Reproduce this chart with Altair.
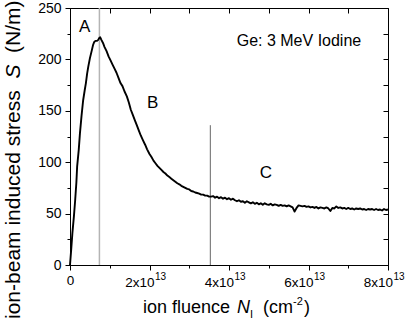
import altair as alt
import pandas as pd

# ---- data ----
# ion fluence in units of 1e13 cm^-2
fluence = [0.00, 0.03, 0.06, 0.10, 0.13, 0.16, 0.18, 0.22, 0.25, 0.29, 0.33, 0.37, 0.40, 0.43, 0.46,
           0.50, 0.55, 0.58, 0.61, 0.64, 0.68, 0.71, 0.74, 0.76, 0.79, 0.83, 0.87, 0.92, 0.97, 1.02,
           1.07, 1.12, 1.17, 1.22, 1.27, 1.32, 1.37, 1.43, 1.48, 1.53, 1.58, 1.63, 1.68, 1.73, 1.78,
           1.84, 1.89, 1.94, 2.00, 2.05, 2.10, 2.15, 2.20, 2.25, 2.30, 2.35, 2.40, 2.45, 2.50, 2.55,
           2.60, 2.65, 2.70, 2.75, 2.80, 2.85, 2.90, 2.95, 3.00, 3.05, 3.10, 3.15, 3.20, 3.25, 3.30,
           3.35, 3.40, 3.45, 3.50, 3.55, 3.60, 3.65, 3.70, 3.75, 3.80, 3.85, 3.90, 3.95, 4.00, 4.05,
           4.10, 4.15, 4.20, 4.25, 4.30, 4.35, 4.40, 4.45, 4.50, 4.55, 4.60, 4.65, 4.70, 4.75, 4.80,
           4.85, 4.90, 4.95, 5.00, 5.05, 5.10, 5.15, 5.20, 5.25, 5.30, 5.35, 5.40, 5.45, 5.50, 5.55,
           5.60, 5.65, 5.70, 5.75, 5.80, 5.85, 5.90, 5.95, 6.00, 6.05, 6.10, 6.15, 6.20, 6.25, 6.30,
           6.35, 6.40, 6.45, 6.50, 6.55, 6.60, 6.65, 6.70, 6.75, 6.80, 6.85, 6.90, 6.95, 7.00, 7.05,
           7.10, 7.15, 7.20, 7.25, 7.30, 7.35, 7.40, 7.45, 7.50, 7.55, 7.60, 7.65, 7.70, 7.75, 7.80,
           7.85, 7.90, 7.95, 8.00]
stress = [0, 15, 31, 48, 63, 80, 96, 112, 128, 145, 160, 170, 177, 186, 193,
          201, 209, 214, 217, 218, 218, 219, 221, 221.5, 219, 216, 212, 208, 203, 199,
          195, 191, 187, 182, 177, 174, 169, 164, 158, 151, 146, 141, 136, 131, 126,
          121, 117, 112.5, 108, 105, 101.5, 99, 96.5, 94.5, 92.5, 90.5, 89, 87, 85.5, 84,
          82.5, 81, 79.5, 78.5, 77, 76, 75, 74, 73.5, 72, 71.5, 70.5, 70, 69.5, 68.5,
          68.5, 67.5, 67.5, 66.5, 66.5, 67, 65.5, 66.5, 65, 66, 64.5, 65.5, 64, 65, 63.5,
          64.5, 63, 62, 63, 61.5, 62, 60.5, 62, 61, 60, 61, 59.5, 60.5, 59, 60,
          58.5, 60, 59, 58.5, 59.5, 58, 59, 58.5, 57.5, 58.5, 57.5, 58, 57, 58, 57,
          56, 52, 55.5, 58, 57.5, 57, 57.5, 56.5, 57, 56, 56.5, 55.5, 56.5, 55, 56,
          55.5, 55, 56, 55, 52.5, 55.5, 55, 57, 55.5, 56, 55, 55.5, 54.5, 55.5, 54.5,
          55, 54, 55, 54.5, 55, 54, 54.5, 53.5, 54.5, 54, 54.5, 53.5, 54.5, 53.5, 54,
          53, 54.5, 53.5, 54]

marker_x = [0.74, 3.53]
marker_top = [250, 136]

region_text = ["A", "B", "C"]
region_x = [0.37, 2.08, 4.93]
region_y = [231.5, 158, 89.5]

note_text = ["Ge: 3 MeV Iodine"]
note_x = [5.76]
note_y = [218]

x_ticks = [0, 1, 2, 3, 4, 5, 6, 7, 8]
x_label_pos = [2, 4, 6, 8]
x_label_mant = ["2x10", "4x10", "6x10", "8x10"]
x_label_exp = ["13", "13", "13", "13"]
y_ticks = [0, 25, 50, 75, 100, 125, 150, 175, 200, 225, 250]

FONT = "Liberation Sans"
W, H = 318, 257

xscale = alt.Scale(domain=[0, 8], nice=False, zero=False)
yscale = alt.Scale(domain=[0, 250], nice=False)

line_df = pd.DataFrame({"fluence": fluence, "stress": stress})

x_bottom = alt.Axis(
    values=x_ticks, title=None, grid=False,
    labelExpr="datum.value === 0 ? '0' : ''",
    tickSize={"condition": {"test": "datum.value % 2 === 0", "value": 5}, "value": 3},
    labelFontSize=13.5, labelPadding=3, labelFlush=False, labelOverlap=False,
)
y_left = alt.Axis(
    values=y_ticks, title=None, grid=False,
    labelExpr="datum.value % 50 === 0 ? datum.label : ''",
    tickSize={"condition": {"test": "datum.value % 50 === 0", "value": 5}, "value": 3},
    labelFontSize=14, labelPadding=4, labelFlush=False, labelOverlap=False,
)
x_top = alt.Axis(orient="top", values=x_ticks, title=None, grid=False, labels=False,
                 domain=False, offset=-5, tickSize=5)
y_right = alt.Axis(orient="right", values=y_ticks, title=None, grid=False, labels=False,
                   domain=False, offset=-5, tickSize=5)

curve = alt.Chart(line_df).mark_line(color="black", strokeWidth=1.9, strokeJoin="round").encode(
    x=alt.X("fluence:Q", scale=xscale, axis=x_bottom),
    y=alt.Y("stress:Q", scale=yscale, axis=y_left),
)
mirror = alt.Chart(line_df).mark_line(opacity=0).encode(
    x=alt.X("fluence:Q", scale=xscale, axis=x_top),
    y=alt.Y("stress:Q", scale=yscale, axis=y_right),
)

rule_a = alt.Chart(pd.DataFrame({"fluence": [marker_x[0]], "stress": [0], "top": [marker_top[0]]})).mark_rule(
    color="#b4b4b4", strokeWidth=1.5).encode(
    x=alt.X("fluence:Q", scale=xscale, axis=None),
    y=alt.Y("stress:Q", scale=yscale, axis=None),
    y2="top:Q",
)
rule_c = alt.Chart(pd.DataFrame({"fluence": [marker_x[1]], "stress": [0], "top": [marker_top[1]]})).mark_rule(
    color="#666666", strokeWidth=1).encode(
    x=alt.X("fluence:Q", scale=xscale, axis=None),
    y=alt.Y("stress:Q", scale=yscale, axis=None),
    y2="top:Q",
)

regions = alt.Chart(pd.DataFrame({"fluence": region_x, "stress": region_y, "t": region_text})).mark_text(
    font=FONT, fontSize=17, color="black", align="center", baseline="middle").encode(
    x=alt.X("fluence:Q", scale=xscale, axis=None),
    y=alt.Y("stress:Q", scale=yscale, axis=None),
    text="t:N",
)
note = alt.Chart(pd.DataFrame({"fluence": note_x, "stress": note_y, "t": note_text})).mark_text(
    font=FONT, fontSize=16, color="black", align="center", baseline="middle").encode(
    x=alt.X("fluence:Q", scale=xscale, axis=None),
    y=alt.Y("stress:Q", scale=yscale, axis=None),
    text="t:N",
)

# x tick labels with real superscripts, placed through the x scale
tick_df = pd.DataFrame({"fluence": x_label_pos, "mant": x_label_mant, "exp": x_label_exp})
tick_mant = alt.Chart(tick_df).mark_text(
    font=FONT, fontSize=13.5, color="black", align="right", baseline="alphabetic", dx=5).encode(
    x=alt.X("fluence:Q", scale=xscale, axis=None),
    y=alt.value(H + 22),
    text="mant:N",
)
tick_exp = alt.Chart(tick_df).mark_text(
    font=FONT, fontSize=10, color="black", align="left", baseline="alphabetic", dx=5.5).encode(
    x=alt.X("fluence:Q", scale=xscale, axis=None),
    y=alt.value(H + 15),
    text="exp:N",
)

one = pd.DataFrame({"k": [0]})


def label(txt, px, py, size, style="normal", angle=0, align="left", baseline="alphabetic"):
    return alt.Chart(one).mark_text(
        text=txt, font=FONT, fontSize=size, fontStyle=style, color="black",
        angle=angle, align=align, baseline=baseline,
    ).encode(x=alt.value(px), y=alt.value(py))


# x-axis title: ion fluence N_I (cm^-2)
xt_base = 305
x_title = [
    label("ion fluence", 73, xt_base, 18),
    label("N", 167, xt_base, 18, style="italic"),
    label("I", 180, xt_base + 5, 11),
    label("(cm", 193, xt_base, 18),
    label("-2", 223, xt_base - 8, 11),
    label(")", 234, xt_base, 18),
]

# y-axis title: ion-beam induced stress  S  (N/m)
fy = 21
y0 = 311
s_start = y0 - (10.893 + 0.556) * fy
u_start = s_start - (0.667 + 0.556) * fy
yx = -50
y_title = [
    label("ion-beam induced stress", yx, y0, fy, angle=270),
    label("S", yx, s_start, fy, style="italic", angle=270),
    label("(N/m)", yx, u_start, fy, angle=270),
]

chart = alt.layer(rule_a, rule_c, curve, mirror, regions, note, tick_mant, tick_exp,
                  *x_title, *y_title).resolve_axis(
    x="independent", y="independent"
).properties(
    width=W, height=H,
    padding={"left": 70, "top": 8, "right": 27, "bottom": 57},
    autosize=alt.AutoSizeParams(type="none"),
).configure_view(
    stroke="black", strokeWidth=1
).configure_axis(
    domainColor="black", domainWidth=1, tickColor="black", tickWidth=1,
    labelColor="black", labelFont=FONT,
)

chart.save("out.html", embed_options={"renderer": "svg", "actions": False})
